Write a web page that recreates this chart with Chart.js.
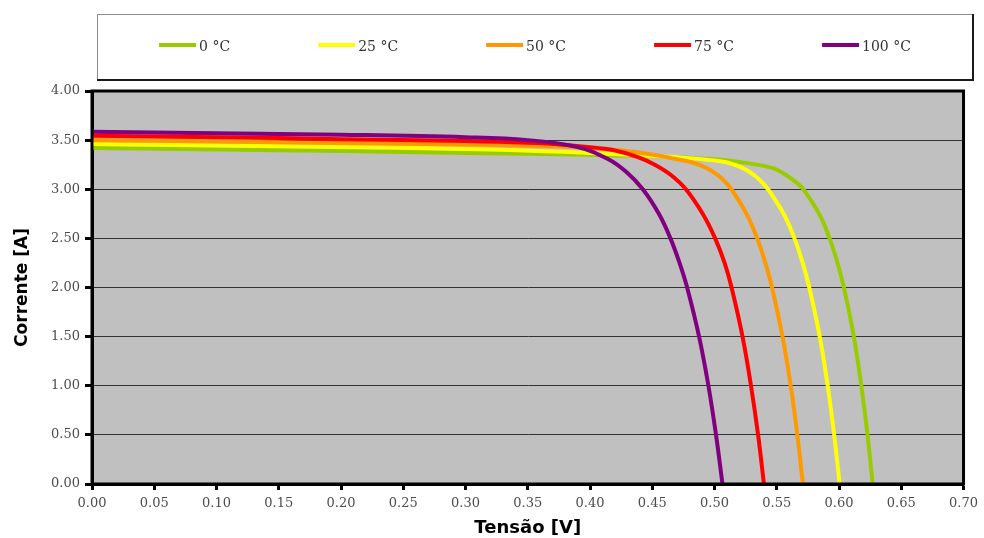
<!DOCTYPE html>
<html>
<head>
<meta charset="utf-8">
<script src="https://cdn.jsdelivr.net/npm/chart.js@4"></script>
<style>
  html, body { margin: 0; padding: 0; background: #fff; }
  canvas { display: block; }
</style>
</head>
<body>
<canvas id="myChart" width="984" height="538"></canvas>
<script>
// Series labels (temperature)
const seriesLabels = ['0 °C', '25 °C', '50 °C', '75 °C', '100 °C'];

// Tensão [V] / Corrente [A]
const voltage0 = [0, 0.10, 0.20, 0.30, 0.40, 0.46, 0.505, 0.534, 0.548, 0.5555, 0.5625, 0.5675, 0.5714, 0.584, 0.5924, 0.5988, 0.6039, 0.6119, 0.6179, 0.6229, 0.627];
const current0 = [3.42, 3.405, 3.39, 3.37, 3.35, 3.33, 3.30, 3.25, 3.21, 3.16, 3.10, 3.05, 3.00, 2.75, 2.50, 2.25, 2.00, 1.50, 1.00, 0.50, 0];

const voltage25 = [0, 0.10, 0.20, 0.30, 0.358, 0.40, 0.465, 0.507, 0.522, 0.5322, 0.5378, 0.5429, 0.5555, 0.5642, 0.5708, 0.5761, 0.5845, 0.5909, 0.5961, 0.6005];
const current25 = [3.46, 3.445, 3.43, 3.41, 3.39, 3.37, 3.33, 3.28, 3.22, 3.14, 3.075, 3.00, 2.75, 2.50, 2.25, 2.00, 1.50, 1.00, 0.50, 0];

const voltage50 = [0, 0.10, 0.20, 0.30, 0.36, 0.40, 0.438, 0.480, 0.493, 0.5025, 0.5085, 0.5136, 0.5257, 0.5343, 0.5408, 0.5462, 0.5546, 0.5612, 0.5665, 0.571];
const current50 = [3.50, 3.485, 3.47, 3.455, 3.44, 3.42, 3.376, 3.28, 3.22, 3.145, 3.075, 3.00, 2.75, 2.50, 2.25, 2.00, 1.50, 1.00, 0.50, 0];

const voltage75 = [0, 0.10, 0.20, 0.30, 0.358, 0.398, 0.420, 0.438, 0.452, 0.465, 0.477, 0.4905, 0.5005, 0.5081, 0.5137, 0.5225, 0.5293, 0.535, 0.5397];
const current75 = [3.545, 3.53, 3.51, 3.49, 3.47, 3.43, 3.395, 3.33, 3.25, 3.145, 3.00, 2.75, 2.50, 2.25, 2.00, 1.50, 1.00, 0.50, 0];

const voltage100 = [0, 0.10, 0.20, 0.30, 0.35, 0.39, 0.414, 0.4288, 0.4424, 0.4553, 0.4646, 0.4719, 0.478, 0.4876, 0.4951, 0.5012, 0.5064];
const current100 = [3.585, 3.57, 3.555, 3.53, 3.50, 3.43, 3.31, 3.18, 3.00, 2.75, 2.50, 2.25, 2.00, 1.50, 1.00, 0.50, 0];

// Axis ticks
const xTicks = [0, 0.05, 0.10, 0.15, 0.20, 0.25, 0.30, 0.35, 0.40, 0.45, 0.50, 0.55, 0.60, 0.65, 0.70];
const yTicks = [0, 0.5, 1.0, 1.5, 2.0, 2.5, 3.0, 3.5, 4.0];

const voltages = [voltage0, voltage25, voltage50, voltage75, voltage100];
const currents = [current0, current25, current50, current75, current100];
const seriesColors = ['#99cc00', '#ffff00', '#ff9900', '#ff0000', '#800080'];

const tickFont = { family: '"DejaVu Serif"', size: 13 };

// Gray plot area + black frame
const plotFrame = {
  id: 'plotFrame',
  beforeDraw(chart) {
    const { ctx, chartArea: a } = chart;
    ctx.save();
    ctx.fillStyle = '#c0c0c0';
    ctx.fillRect(a.left, a.top, a.right - a.left, a.bottom - a.top);
    ctx.restore();
  },
  afterDraw(chart) {
    const { ctx, chartArea: a } = chart;
    ctx.save();
    ctx.strokeStyle = '#000';
    ctx.lineWidth = 3;
    ctx.strokeRect(a.left, a.top, a.right - a.left, a.bottom - a.top);
    ctx.restore();
  }
};

// Legend in a framed box above the plot
const legendBox = {
  id: 'legendBox',
  afterDraw(chart) {
    const ctx = chart.ctx;
    ctx.save();
    ctx.strokeStyle = '#8c8c8c';
    ctx.lineWidth = 1;
    ctx.strokeRect(97.5, 14.5, 875, 65);
    ctx.strokeStyle = '#1a1a1a';
    ctx.lineWidth = 2;
    ctx.beginPath();
    ctx.moveTo(97, 80);
    ctx.lineTo(973, 80);
    ctx.lineTo(973, 14);
    ctx.stroke();

    ctx.font = '14px "DejaVu Serif"';
    ctx.textBaseline = 'middle';
    const items = chart.data.datasets.map(ds => ({
      label: ds.label,
      color: ds.borderColor,
      w: 37 + 3 + ctx.measureText(ds.label).width
    }));
    const gap = 88;
    const total = items.reduce((s, it) => s + it.w, 0) + gap * (items.length - 1);
    let x = 535 - total / 2;
    items.forEach(it => {
      ctx.strokeStyle = it.color;
      ctx.lineWidth = 4;
      ctx.beginPath();
      ctx.moveTo(x, 45);
      ctx.lineTo(x + 37, 45);
      ctx.stroke();
      ctx.fillStyle = '#333';
      ctx.fillText(it.label, x + 40, 47);
      x += it.w + gap;
    });
    ctx.restore();
  }
};

const datasets = seriesLabels.map((label, i) => ({
  label: label,
  data: voltages[i].map((v, j) => ({ x: v, y: currents[i][j] })),
  borderColor: seriesColors[i],
  backgroundColor: seriesColors[i],
  borderWidth: 4,
  pointRadius: 0,
  showLine: true,
  tension: 0.4,
  order: seriesLabels.length - i
}));

const ctx = document.getElementById('myChart');

const myChart = new Chart(ctx, {
  type: 'scatter',
  data: { datasets: datasets },
  options: {
    responsive: false,
    animation: false,
    layout: { padding: { top: 91, right: 17, bottom: 0, left: 0 } },
    plugins: {
      legend: { display: false },
      tooltip: { enabled: false }
    },
    scales: {
      x: {
        type: 'linear',
        min: 0,
        max: 0.70,
        afterBuildTicks: s => { s.ticks = xTicks.map(v => ({ value: v })); },
        afterFit: s => { s.height = 54; },
        ticks: {
          font: tickFont,
          color: '#4d4d4d',
          padding: 6,
          maxRotation: 0,
          autoSkip: false,
          callback: v => v.toFixed(2)
        },
        grid: {
          drawOnChartArea: false,
          drawTicks: true,
          tickLength: 6,
          tickColor: '#000',
          tickWidth: 3
        },
        border: { color: '#000', width: 3 },
        title: {
          display: true,
          text: 'Tensão [V]',
          font: { family: '"DejaVu Sans"', size: 18, weight: 'bold' },
          color: '#000',
          padding: { top: 0, bottom: -1 }
        }
      },
      y: {
        type: 'linear',
        min: 0,
        max: 4,
        afterBuildTicks: s => { s.ticks = yTicks.map(v => ({ value: v })); },
        afterFit: s => { s.width = 92; },
        ticks: {
          font: tickFont,
          color: '#4d4d4d',
          padding: 5,
          autoSkip: false,
          callback: v => v.toFixed(2)
        },
        grid: {
          color: '#333',
          lineWidth: 1,
          drawTicks: true,
          tickLength: 7,
          tickColor: '#000',
          tickWidth: 3
        },
        border: { color: '#000', width: 3 },
        title: {
          display: true,
          text: 'Corrente [A]',
          font: { family: '"DejaVu Sans"', size: 17, weight: 'bold' },
          color: '#000',
          padding: { top: 12, bottom: 0 }
        }
      }
    }
  },
  plugins: [plotFrame, legendBox]
});
</script>
</body>
</html>
